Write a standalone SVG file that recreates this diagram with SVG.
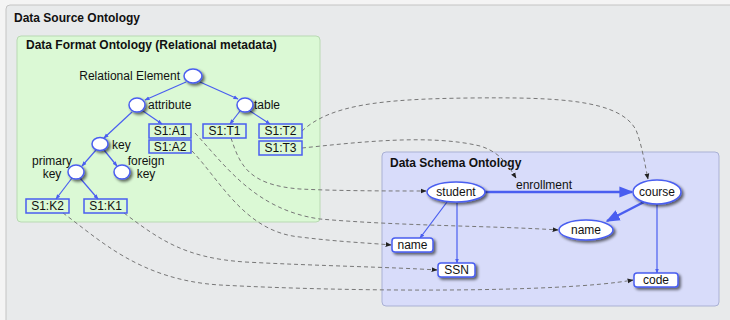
<svg xmlns="http://www.w3.org/2000/svg" width="730" height="320" viewBox="0 0 730 320">
<defs>
<filter id="sh" x="-30%" y="-30%" width="170%" height="180%">
<feGaussianBlur in="SourceAlpha" stdDeviation="1.5"/>
<feOffset dx="2" dy="2" result="b"/>
<feComponentTransfer><feFuncA type="linear" slope="0.6"/></feComponentTransfer>
<feMerge><feMergeNode/><feMergeNode in="SourceGraphic"/></feMerge>
</filter>
<marker id="ab" viewBox="0 0 10 10" refX="9" refY="5" markerWidth="5" markerHeight="5" orient="auto" markerUnits="userSpaceOnUse">
<path d="M0,1 L10,5 L0,9 z" fill="#4a5ef0"/>
</marker>
<marker id="abig" viewBox="0 0 10 10" refX="9" refY="5" markerWidth="14" markerHeight="14" orient="auto" markerUnits="userSpaceOnUse">
<path d="M0,1 L10,5 L0,9 z" fill="#4a5ef0"/>
</marker>
<marker id="ad" viewBox="0 0 10 10" refX="9" refY="5" markerWidth="6" markerHeight="6" orient="auto" markerUnits="userSpaceOnUse">
<path d="M0,1 L10,5 L0,9 z" fill="#222"/>
</marker>
<style>
text{font-family:"Liberation Sans",Arial,sans-serif;font-size:12px;fill:#111}
.title{font-weight:bold;font-size:12px}
.ell{fill:#fff;stroke:#4a5ef0;stroke-width:1.5;filter:url(#sh)}
.box{fill:none;stroke:#4a5ef0;stroke-width:1.5}
.rbox{fill:#fff;stroke:#4a5ef0;stroke-width:1.5;filter:url(#sh)}
.e{fill:none;stroke:#4a5ef0;stroke-width:1.2;marker-end:url(#ab)}
.eb{fill:none;stroke:#4a5ef0;stroke-width:2.5;marker-end:url(#abig)}
.d{fill:none;stroke:#777;stroke-width:1;stroke-dasharray:4 3;marker-end:url(#ad)}
.c{text-anchor:middle}
</style>
</defs>
<rect x="0" y="0" width="730" height="320" fill="#f4f4f4"/>
<rect x="6" y="5" width="740" height="330" rx="4" fill="#e8eaeb" stroke="#c4c4c4"/>
<text class="title" x="14" y="22">Data Source Ontology</text>
<g id="panel-format">
<rect x="17" y="36" width="303" height="186" rx="4" fill="#dbf9d5" stroke="#b9d9b3"/>
<text class="title" x="26" y="49">Data Format Ontology (Relational metadata)</text>
</g>
<g id="panel-schema">
<rect x="382" y="152" width="337" height="154" rx="4" fill="#d8dcfa" stroke="#aab1d4"/>
<text class="title" x="390" y="167">Data Schema Ontology</text>
</g>
<g id="connectors">
<path class="e" d="M186,82 L145,100"/>
<path class="e" d="M200,82 L238,99"/>
<path class="e" d="M132,112 L104,138"/>
<path class="e" d="M143,111 L162,124"/>
<path class="e" d="M240,111 L230,124"/>
<path class="e" d="M250,111 L270,124"/>
<path class="e" d="M96,150 L82,166"/>
<path class="e" d="M104,150 L117,166"/>
<path class="e" d="M72,178 L56,199"/>
<path class="e" d="M80,178 L98,199"/>
<path class="eb" d="M485,192 L632,192"/>
<path class="eb" d="M644,202 L607,221"/>
<path class="e" d="M447,202 L420,238"/>
<path class="e" d="M457,203 L457,263"/>
<path class="e" d="M657,204 L657,273"/>
<path class="d" d="M302,131 C330,105 380,99 470,98 C560,97 620,100 636,130 C642,145 645,165 648,179"/>
<path class="d" d="M302,148 C360,142 430,134 480,146 C500,152 508,165 516,178"/>
<path class="d" d="M231,138 C240,165 248,185 300,189 C340,191 390,191 426,191"/>
<path class="d" d="M195,133 C225,165 255,210 320,219 C400,226 500,226 558,230"/>
<path class="d" d="M192,151 C220,180 245,232 300,237 C340,242 370,243 391,245"/>
<path class="d" d="M124,213 C160,240 185,258 245,262 C320,266 390,267 437,270"/>
<path class="d" d="M63,213 C100,240 140,280 220,285 C350,292 560,293 633,280"/>
</g>
<g id="n-relational-element"><ellipse class="ell" cx="193" cy="76" rx="9" ry="7"/><text x="180" y="80" text-anchor="end">Relational Element</text></g>
<g id="n-attribute"><ellipse class="ell" cx="137" cy="105" rx="8" ry="7"/><text x="148" y="109">attribute</text></g>
<g id="n-table"><ellipse class="ell" cx="245" cy="105" rx="8" ry="7"/><text x="254" y="109">table</text></g>
<g id="n-s1a1"><rect class="box" x="149" y="124" width="42" height="14"/><text class="c" x="170" y="135">S1:A1</text></g>
<g id="n-s1a2"><rect class="box" x="149" y="140" width="42" height="13"/><text class="c" x="170" y="151">S1:A2</text></g>
<g id="n-s1t1"><rect class="box" x="203" y="124" width="43" height="14"/><text class="c" x="224.5" y="135">S1:T1</text></g>
<g id="n-s1t2"><rect class="box" x="259" y="124" width="43" height="14"/><text class="c" x="280.5" y="135">S1:T2</text></g>
<g id="n-s1t3"><rect class="box" x="259" y="141" width="43" height="14"/><text class="c" x="280.5" y="152">S1:T3</text></g>
<g id="n-key"><ellipse class="ell" cx="100" cy="144" rx="8" ry="6.5"/><text x="112" y="149">key</text></g>
<g id="n-primary-key"><ellipse class="ell" cx="76" cy="172" rx="8" ry="7"/><text class="c" x="52" y="165">primary</text><text class="c" x="52" y="178">key</text></g>
<g id="n-foreign-key"><ellipse class="ell" cx="122" cy="172" rx="8" ry="7"/><text class="c" x="146" y="165">foreign</text><text class="c" x="146" y="178">key</text></g>
<g id="n-s1k2"><rect class="box" x="26" y="199" width="43" height="14"/><text class="c" x="47.5" y="210">S1:K2</text></g>
<g id="n-s1k1"><rect class="box" x="84" y="199" width="43" height="14"/><text class="c" x="105.5" y="210">S1:K1</text></g>
<g id="n-student"><ellipse class="ell" cx="456" cy="192" rx="29" ry="10"/><text class="c" x="456" y="196">student</text></g>
<g id="n-course"><ellipse class="ell" cx="657" cy="192" rx="24" ry="12"/><text class="c" x="657" y="196">course</text></g>
<text x="516" y="189">enrollment</text>
<g id="n-name-course"><ellipse class="ell" cx="586" cy="230" rx="27" ry="10"/><text class="c" x="586" y="234">name</text></g>
<g id="n-name-student"><rect class="rbox" x="392" y="238" width="41" height="14" rx="3"/><text class="c" x="412.5" y="249">name</text></g>
<g id="n-ssn"><rect class="rbox" x="438" y="263" width="37" height="14" rx="3"/><text class="c" x="456.5" y="274">SSN</text></g>
<g id="n-code"><rect class="rbox" x="634" y="273" width="44" height="14" rx="3"/><text class="c" x="656" y="284">code</text></g>
</svg>
